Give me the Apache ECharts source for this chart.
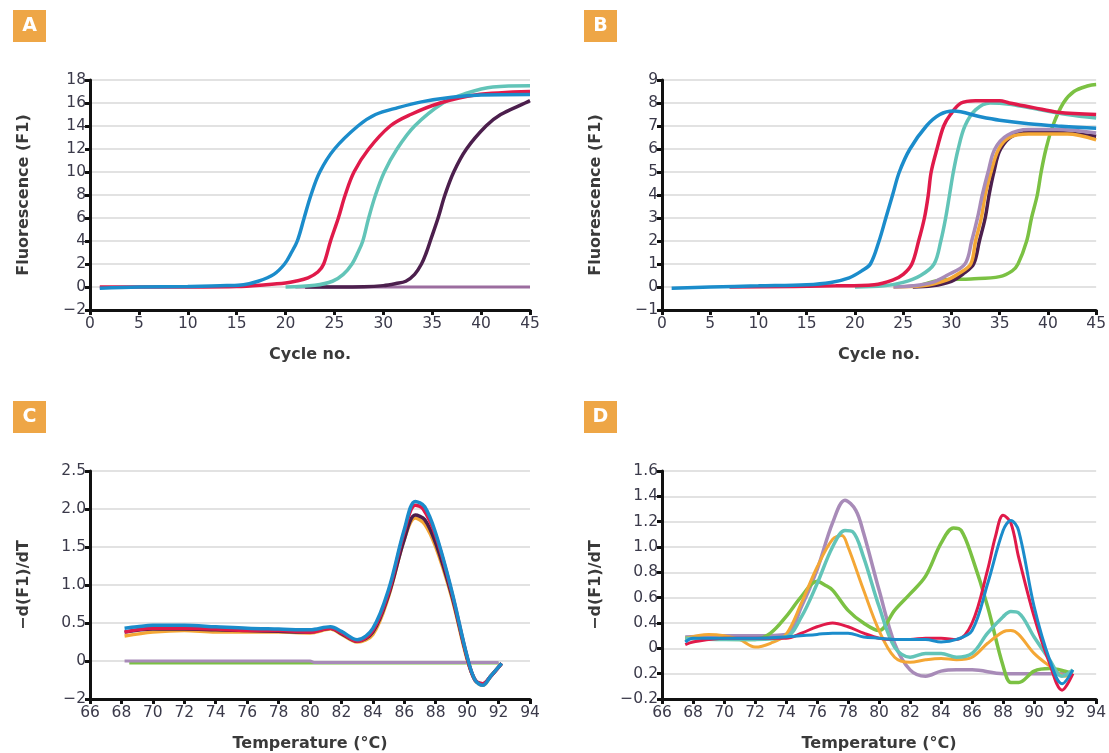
<!DOCTYPE html>
<html>
<head>
<meta charset="utf-8">
<script src="https://cdn.jsdelivr.net/npm/echarts@6/dist/echarts.min.js"></script>
<style>
  html, body { margin: 0; padding: 0; background: #fff; }
  #chart-container { width: 1109px; height: 753px; }
</style>
</head>
<body>
<div id="chart-container"></div>
<script>
// panel A: amplification curves, [cycle, fluorescence]
var blueA = [[1,-0.1],[5,0],[10,0.05],[14,0.12],[15.7,0.2],[17.2,0.5],[18.8,1.1],[19.9,2],[20.6,3],[21.2,4],[21.9,6],[22.6,8],[23.5,10],[25,12],[27.4,14],[29.2,15],[31.5,15.6],[33.9,16.1],[37,16.5],[40,16.7],[45,16.75]];
var redA = [[1,0],[7,0],[15,0.05],[18,0.2],[20,0.35],[21,0.5],[22.3,0.8],[23.3,1.3],[23.9,2],[24.6,4],[25.4,6],[26.1,8],[27,10],[28.5,12],[30.7,14],[32.8,15],[35.8,16],[39.4,16.7],[45,17.0]];
var tealA = [[20,0],[23,0.15],[24.8,0.5],[25.9,1.1],[26.8,2],[27.4,3],[27.9,4],[28.5,6],[29.2,8],[30.1,10],[31.4,12],[33.2,14],[36.1,16],[38.3,16.8],[41.2,17.4],[45,17.5]];
var plumA = [[22,0],[28,0.03],[30,0.12],[31.3,0.3],[32.3,0.5],[33.2,1.1],[33.9,2],[34.4,3],[34.8,4],[35.6,6],[36.3,8],[37.2,10],[38.5,12],[40.5,14],[42,15],[44.5,16],[45,16.2]];
var lilacA = [[21,0],[45,0]];

// panel B
var blueB = [[1,-0.05],[5,0],[10,0.05],[15,0.1],[17.5,0.2],[19.4,0.4],[20.7,0.7],[21.6,1],[22.5,2],[23.2,3],[23.9,4],[24.6,5],[25.7,6],[27.4,7],[28.8,7.5],[30.2,7.65],[33,7.4],[35,7.25],[38,7.1],[41,7.0],[45,6.9]];
var redB = [[7,0],[18,0.05],[22,0.1],[23.9,0.3],[25,0.55],[25.9,1],[26.6,2],[27.2,3],[27.6,4],[27.9,5],[28.5,6],[29.2,7],[29.9,7.5],[31,8.0],[32.5,8.1],[35,8.1],[36,8.0],[38.5,7.8],[41,7.6],[45,7.5]];
var tealB = [[20,0],[23,0.05],[25,0.2],[26.8,0.5],[28.2,1],[28.9,2],[29.4,3],[29.8,4],[30.2,5],[30.7,6],[31.4,7],[32.5,7.7],[34,8.0],[36,7.95],[38,7.8],[42,7.5],[45,7.35]];
var lilacB = [[24,0],[26,0.05],[28,0.2],[29.5,0.5],[31.4,1],[32.1,2],[32.7,3],[33.2,4],[33.8,5],[34.5,6],[35.8,6.6],[38,6.85],[41,6.85],[45,6.7]];
var orangeB = [[24,0],[27,0.05],[29.5,0.3],[30.8,0.6],[32,1],[32.5,2],[33.1,3],[33.5,4],[34.1,5],[34.9,6],[36,6.5],[38,6.65],[42,6.65],[45,6.4]];
var plumB = [[26,0],[28,0.05],[30,0.25],[31.3,0.6],[32.3,1],[32.9,2],[33.5,3],[33.9,4],[34.4,5],[35.1,6],[36.5,6.6],[39,6.75],[42,6.7],[45,6.55]];
var greenB = [[27,0.1],[29,0.3],[32,0.35],[35,0.45],[36.3,0.7],[36.9,1],[37.8,2],[38.3,3],[38.9,4],[39.3,5],[39.8,6],[40.5,7],[41.6,8],[42.7,8.5],[44.2,8.75],[45,8.8]];

// panel C: melt curves, [temperature, -d(F1)/dT]
var blueC = [[68.2,0.43],[69,0.45],[70,0.47],[72,0.47],[74,0.45],[76,0.43],[78,0.42],[80,0.41],[81.3,0.45],[82,0.39],[83,0.28],[84,0.43],[85,0.94],[86,1.73],[86.7,2.1],[87.3,2.03],[88,1.68],[89,0.94],[90,0.06],[90.5,-0.25],[91,-0.32],[91.5,-0.2],[92.2,-0.03]];
var redC = [[68.2,0.38],[70,0.43],[72,0.43],[74,0.42],[76,0.4],[78,0.4],[80,0.38],[81.3,0.43],[82,0.37],[83,0.26],[84,0.4],[85,0.9],[86,1.7],[86.7,2.05],[87.2,2.0],[88,1.65],[89,0.92],[90,0.05],[90.5,-0.25],[91,-0.3],[91.5,-0.2],[92.2,-0.03]];
var plumC = [[68.2,0.38],[70,0.42],[72,0.42],[74,0.41],[76,0.4],[78,0.39],[80,0.38],[81.3,0.43],[82,0.36],[83,0.26],[84,0.38],[85,0.87],[86,1.6],[86.7,1.92],[87.3,1.86],[88,1.55],[89,0.88],[90,0.04],[90.5,-0.25],[91,-0.3],[91.5,-0.2],[92.2,-0.03]];
var orangeC = [[68.2,0.33],[70,0.38],[72,0.4],[74,0.38],[76,0.38],[78,0.38],[80,0.37],[81.3,0.42],[82,0.35],[83,0.25],[84,0.35],[85,0.85],[86,1.6],[86.7,1.88],[87.3,1.8],[88,1.5],[89,0.85],[90,0.02],[90.5,-0.25],[91,-0.32],[91.5,-0.2],[92.2,-0.03]];
var lilacC = [[68.2,0],[80,0],[80.3,-0.02],[92,-0.02]];
var greenC = [[68.5,-0.03],[92,-0.03]];

// panel D
var blueD = [[67.5,0.25],[68,0.28],[70,0.28],[72,0.28],[74,0.29],[76,0.31],[77,0.32],[78,0.32],[79,0.29],[80,0.28],[81,0.27],[82,0.27],[83,0.27],[84,0.25],[85,0.27],[86,0.34],[87,0.71],[88,1.13],[88.5,1.21],[89,1.13],[90,0.53],[91,0.11],[91.8,-0.08],[92.5,0.03]];
var redD = [[67.5,0.23],[68,0.25],[70,0.28],[72,0.28],[74,0.28],[75,0.32],[76,0.37],[77,0.4],[78,0.37],[79,0.32],[80,0.28],[81,0.27],[82,0.27],[83,0.28],[84,0.28],[85,0.27],[86,0.4],[87,0.82],[87.5,1.08],[88,1.25],[88.5,1.19],[89,0.92],[90,0.45],[91,0.08],[91.8,-0.13],[92.5,0.0]];
var greenD = [[67.5,0.28],[72,0.27],[73,0.32],[74,0.45],[75,0.61],[76,0.73],[76.5,0.7],[77,0.66],[78,0.5],[79,0.4],[80,0.34],[81,0.5],[82,0.63],[83,0.77],[84,1.03],[84.8,1.15],[85.3,1.13],[86,0.92],[87,0.53],[88,0.06],[88.5,-0.07],[89,-0.07],[90,0.02],[91,0.04],[92,0.02],[92.5,0.0]];
var orangeD = [[67.5,0.28],[69,0.31],[70,0.3],[71,0.27],[72,0.21],[73,0.24],[74,0.31],[75,0.56],[76,0.84],[77,1.06],[77.6,1.09],[78,1.0],[79,0.66],[80,0.34],[81,0.13],[82,0.09],[83,0.11],[84,0.12],[85,0.11],[86,0.13],[87,0.24],[88,0.33],[88.5,0.34],[89,0.31],[90,0.16],[91,0.06],[92,-0.02],[92.5,0.0]];
var tealD = [[67.5,0.28],[70,0.27],[72,0.27],[74,0.29],[75,0.45],[76,0.71],[77,1.0],[77.8,1.13],[78.3,1.12],[79,0.92],[80,0.53],[81,0.21],[82,0.13],[83,0.16],[84,0.16],[85,0.13],[86,0.16],[87,0.32],[88,0.45],[88.5,0.49],[89,0.48],[90,0.29],[91,0.11],[91.8,-0.02],[92.5,0.03]];
var lilacD = [[67.5,0.29],[70,0.3],[72,0.3],[74,0.31],[75,0.53],[76,0.82],[77,1.19],[77.8,1.37],[78.5,1.29],[79,1.11],[80,0.66],[81,0.24],[82,0.03],[83,-0.02],[84,0.02],[85,0.03],[86,0.03],[88,0.0],[90,0.0],[92.5,0.0]];

// tick labels as printed in the figure
var ticksC = ['\u22122', '0', '0.5', '1.0', '1.5', '2.0', '2.5'];
var ticksD = ['\u22120.2', '0.2', '0', '0.4', '0.6', '0.8', '1.0', '1.2', '1.4', '1.6'];

var colors = {
  blue: '#1b8ccb', red: '#e01a4a', teal: '#62c4b8', plum: '#4c1f4d',
  lilac: '#a88bb8', orange: '#f4a735', green: '#7bc143'
};

var dom = document.getElementById('chart-container');
var myChart = echarts.init(dom, null, { renderer: 'canvas', useDirtyRect: false });

var labelFont = { fontFamily: 'DejaVu Sans, sans-serif', fontSize: 15.5, color: '#3b3a4a' };
var nameFont = { fontFamily: 'DejaVu Sans, sans-serif', fontSize: 16, fontWeight: 'bold', color: '#3a3a3a' };

function minus(v) {
  return String(v).replace('-', '\u2212');
}

function xAxis(idx, min, max, step, name) {
  return {
    type: 'value', gridIndex: idx, min: min, max: max, interval: step,
    name: name, nameLocation: 'middle', nameGap: 37, nameTextStyle: nameFont,
    axisLine: { show: true, onZero: false, lineStyle: { color: '#111', width: 3 } },
    axisTick: { show: true, length: 5, lineStyle: { color: '#111', width: 3 } },
    axisLabel: Object.assign({ margin: 6 }, labelFont),
    splitLine: { show: false }
  };
}

function yAxis(idx, min, max, step, name, fmt) {
  return {
    type: 'value', gridIndex: idx, min: min, max: max, interval: step,
    name: name, nameLocation: 'middle', nameGap: 58, nameTextStyle: nameFont,
    axisLine: { show: true, onZero: false, lineStyle: { color: '#111', width: 3 } },
    axisTick: { show: true, length: 5, lineStyle: { color: '#111', width: 3 } },
    axisLabel: Object.assign({ margin: 4, formatter: fmt }, labelFont),
    splitLine: { show: true, lineStyle: { color: '#d9d9d9', width: 1.5 } }
  };
}

function line(idx, data, color, width) {
  return {
    type: 'line', xAxisIndex: idx, yAxisIndex: idx, data: data,
    showSymbol: false, smooth: 0.35,
    lineStyle: { color: color, width: width || 3.5 },
    silent: true
  };
}

function badge(x, y, letter) {
  return {
    type: 'group', left: x, top: y,
    children: [
      { type: 'rect', shape: { x: 0, y: 0, width: 33, height: 32 }, style: { fill: '#eea646' } },
      { type: 'text', x: 16.5, y: 16, style: { text: letter, fill: '#fff', font: 'bold 19px DejaVu Sans, sans-serif', align: 'center', verticalAlign: 'middle' } }
    ]
  };
}

var option = {
  backgroundColor: '#fff',
  animation: false,
  grid: [
    { left: 90, top: 80, width: 440, height: 230 },
    { left: 662, top: 80, width: 438, height: 230 },
    { left: 90, top: 471, width: 440, height: 228 },
    { left: 662, top: 471, width: 438, height: 228 }
  ],
  xAxis: [
    xAxis(0, 0, 45, 5, 'Cycle no.'),
    xAxis(1, 0, 45, 5, 'Cycle no.'),
    xAxis(2, 66, 94, 2, 'Temperature (\u00b0C)'),
    xAxis(3, 66, 94, 2, 'Temperature (\u00b0C)')
  ],
  yAxis: [
    yAxis(0, -2, 18, 2, 'Fluorescence (F1)', minus),
    yAxis(1, -1, 9, 1, 'Fluorescence (F1)', minus),
    yAxis(2, -0.5, 2.5, 0.5, '\u2212d(F1)/dT', function (v) { return ticksC[Math.round(v * 2) + 1]; }),
    yAxis(3, -0.2, 1.6, 0.2, '\u2212d(F1)/dT', function (v) { return ticksD[Math.round(v * 5) + 1]; })
  ],
  graphic: [badge(13, 10, 'A'), badge(584, 10, 'B'), badge(13, 401, 'C'), badge(584, 401, 'D')],
  series: [
    line(0, lilacA, '#9b6d9f', 3),
    line(0, plumA, colors.plum),
    line(0, tealA, colors.teal),
    line(0, redA, colors.red),
    line(0, blueA, colors.blue),

    line(1, greenB, colors.green),
    line(1, plumB, colors.plum),
    line(1, orangeB, colors.orange),
    line(1, lilacB, colors.lilac),
    line(1, tealB, colors.teal),
    line(1, redB, colors.red),
    line(1, blueB, colors.blue),

    line(2, greenC, colors.green, 2.5),
    line(2, lilacC, colors.lilac, 3),
    line(2, orangeC, colors.orange),
    line(2, plumC, colors.plum),
    line(2, redC, colors.red),
    line(2, blueC, colors.blue),

    line(3, lilacD, colors.lilac),
    line(3, greenD, colors.green),
    line(3, orangeD, colors.orange, 3),
    line(3, tealD, colors.teal),
    line(3, redD, colors.red, 3),
    line(3, blueD, colors.blue, 3)
  ]
};

myChart.setOption(option);
window.addEventListener('resize', myChart.resize);
</script>
</body>
</html>
